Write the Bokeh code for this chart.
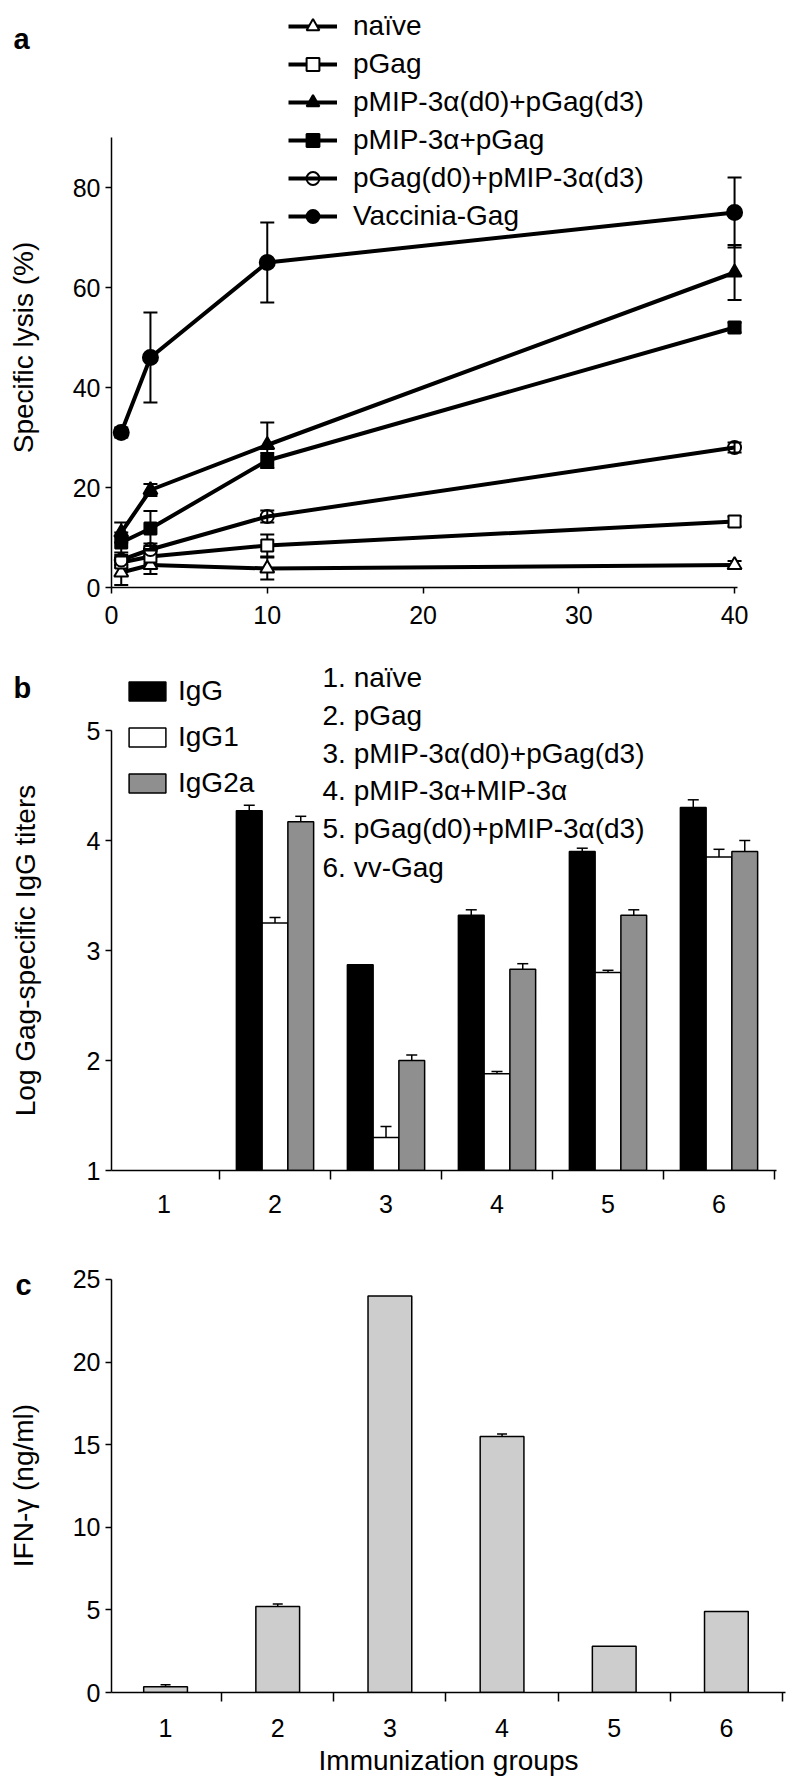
import math
from bokeh.plotting import figure
from bokeh.layouts import column
from bokeh.models import (Range1d, FixedTicker, Legend, LegendItem, Label,
                          Whisker, TeeHead, ColumnDataSource)
from bokeh.embed import file_html
from bokeh.resources import INLINE

FONT = "Liberation Sans"
TICK_FS = "25px"
LAB_FS = "28px"
FIG_W = 792
BORDER_L, BORDER_R = 111, 7

# ---------------- Panel a data ----------------
et_ratio = [0.625, 2.5, 10, 40]
a_xticks = [0, 10, 20, 30, 40]
a_yticks = [0, 20, 40, 60, 80]
series_names = ["naïve", "pGag", "pMIP-3α(d0)+pGag(d3)", "pMIP-3α+pGag",
                "pGag(d0)+pMIP-3α(d3)", "Vaccinia-Gag"]
lysis_naive = [3.0, 4.5, 3.8, 4.5]
lysis_pgag = [5.0, 6.2, 8.4, 13.2]
lysis_mip_d0_gag_d3 = [11.0, 19.5, 28.5, 63.0]
lysis_mip_gag = [9.0, 11.8, 25.4, 52.0]
lysis_gag_d0_mip_d3 = [5.5, 7.6, 14.2, 28.0]
lysis_vaccinia = [31.0, 46.0, 65.0, 75.0]
err_naive = [2.5, 1.8, 2.2, 0.8]
err_pgag = [1.0, 1.5, 2.2, 1.0]
err_mip_d0_gag_d3 = [2.0, 1.2, 4.5, 5.5]
err_mip_gag = [2.0, 3.5, 1.5, 1.0]
err_gag_d0_mip_d3 = [1.0, 1.2, 1.2, 1.0]
err_vaccinia = [1.0, 9.0, 8.0, 7.0]

# ---------------- Panel b data ----------------
groups = ["1", "2", "3", "4", "5", "6"]
group_names = ["1. naïve", "2. pGag", "3. pMIP-3α(d0)+pGag(d3)", "4. pMIP-3α+MIP-3α",
               "5. pGag(d0)+pMIP-3α(d3)", "6. vv-Gag"]
NaN = float("nan")
igg = [NaN, 4.27, 2.87, 3.32, 3.90, 4.30]
igg1 = [NaN, 3.25, 1.30, 1.88, 2.80, 3.85]
igg2a = [NaN, 4.17, 2.00, 2.83, 3.32, 3.90]
igg_err = [NaN, 0.05, 0.0, 0.05, 0.03, 0.07]
igg1_err = [NaN, 0.05, 0.10, 0.02, 0.02, 0.07]
igg2a_err = [NaN, 0.05, 0.05, 0.05, 0.05, 0.10]
b_yticks = [1, 2, 3, 4, 5]

# ---------------- Panel c data ----------------
ifng = [0.35, 5.2, 24.0, 15.5, 2.8, 4.9]
ifng_err = [0.12, 0.15, 0.0, 0.15, 0.0, 0.0]
c_yticks = [0, 5, 10, 15, 20, 25]


def style(p):
    p.xgrid.visible = False
    p.ygrid.visible = False
    p.outline_line_color = None
    p.background_fill_color = "white"
    p.border_fill_color = "white"
    for ax in p.axis:
        ax.axis_line_color = "black"
        ax.axis_line_width = 1.5
        ax.major_tick_line_color = "black"
        ax.major_tick_line_width = 1.5
        ax.major_tick_in = 0
        ax.major_tick_out = 6
        ax.minor_tick_line_color = None
        ax.major_label_text_font = FONT
        ax.major_label_text_font_size = TICK_FS
        ax.major_label_text_color = "black"
        ax.axis_label_text_font = FONT
        ax.axis_label_text_font_size = LAB_FS
        ax.axis_label_text_font_style = "normal"
        ax.axis_label_text_color = "black"


def whisker(p, base, val, err, both=False, size=12, lw=2):
    b, lo, up = [], [], []
    for x, v, e in zip(base, val, err):
        if math.isnan(v) or math.isnan(e) or e <= 0:
            continue
        b.append(x)
        up.append(v + e)
        lo.append(v - e if both else v)
    src = ColumnDataSource(dict(base=b, lower=lo, upper=up))
    w = Whisker(source=src, base="base", lower="lower", upper="upper",
                dimension="height", line_color="black", line_width=lw,
                upper_head=TeeHead(size=size, line_width=lw, line_color="black"),
                lower_head=(TeeHead(size=size, line_width=lw, line_color="black") if both else None))
    p.add_layout(w)


def side_text(p, x, y, text, size=LAB_FS, bold=False, angle=0.0,
              align="left", baseline="alphabetic"):
    """Text placed in the left side panel (so it is not clipped to the frame)."""
    p.add_layout(Label(x=x, y=y, text=text, angle=angle, text_font=FONT,
                       text_font_size=size, text_font_style="bold" if bold else "normal",
                       text_align=align, text_baseline=baseline, text_color="black"),
                 "left")


# ================= Panel a =================
A_FB, A_YPX, A_XPX = 587, 5.0, 15.575
pa = figure(width=FIG_W, height=645, output_backend="svg", toolbar_location=None,
            x_range=Range1d(0, 43.27), y_range=Range1d(0, 115.8),
            min_border_left=BORDER_L, min_border_right=BORDER_R,
            min_border_top=8, min_border_bottom=58)
style(pa)
pa.xaxis.ticker = FixedTicker(ticks=a_xticks)
pa.yaxis.ticker = FixedTicker(ticks=a_yticks)
pa.yaxis.bounds = (0, 90)
pa.xaxis.bounds = (0, 40.2)
pa.xaxis.major_label_standoff = 12

series_vals = [lysis_naive, lysis_pgag, lysis_mip_d0_gag_d3, lysis_mip_gag,
               lysis_gag_d0_mip_d3, lysis_vaccinia]
series_errs = [err_naive, err_pgag, err_mip_d0_gag_d3, err_mip_gag,
               err_gag_d0_mip_d3, err_vaccinia]
markers = [("triangle", "white", 14), ("square", "white", 12), ("triangle", "black", 14),
           ("square", "black", 12), ("circle", None, 13), ("circle", "black", 15)]

items = []
lines = []
for name, vals in zip(series_names, series_vals):
    lines.append(pa.line(et_ratio, vals, line_color="black", line_width=4))
for vals, errs in zip(series_vals, series_errs):
    whisker(pa, et_ratio, vals, errs, both=True, size=14, lw=2)
for name, vals, ln, (mk, fill, sz) in zip(series_names, series_vals, lines, markers):
    r = pa.scatter(et_ratio, vals, marker=mk, size=sz, line_color="black", line_width=2,
                   fill_color=fill if fill else "white", fill_alpha=1.0 if fill else 0.0)
    items.append(LegendItem(label=name, renderers=[ln, r]))

leg_a = Legend(items=items, location=(177, 355), orientation="vertical",
               glyph_width=49, glyph_height=32, label_standoff=16, spacing=6,
               padding=0, margin=0, border_line_color=None, background_fill_alpha=0,
               label_text_font=FONT, label_text_font_size=LAB_FS, label_text_color="black")
pa.add_layout(leg_a)
side_text(pa, (23 - 111) / A_XPX, (A_FB - 347) / A_YPX, "Specific lysis (%)",
          angle=math.pi / 2, align="center", baseline="middle")
side_text(pa, (13 - 111) / A_XPX, (A_FB - 38) / A_YPX, "a", size="29px", bold=True)

# ================= Panel b =================
B_X0, B_XPX, B_FB, B_YPX = 0.527, 111.0, 1170, 110.0
pb = figure(width=FIG_W, height=590, output_backend="svg", toolbar_location=None,
            x_range=Range1d(0.527, 6.599), y_range=Range1d(1, 1 + 515 / 110),
            min_border_left=BORDER_L, min_border_right=BORDER_R,
            min_border_top=10, min_border_bottom=65)
style(pb)
gx = [i + 1 for i in range(len(groups))]
pb.xaxis.ticker = FixedTicker(ticks=gx, minor_ticks=[g - 0.5 for g in gx] + [gx[-1] + 0.5])
pb.xaxis.major_label_overrides = {g: lab for g, lab in zip(gx, groups)}
pb.xaxis.bounds = (0.527, 6.52)
pb.xaxis.major_tick_out = 0
pb.xaxis.minor_tick_line_color = "black"
pb.xaxis.minor_tick_line_width = 1.5
pb.xaxis.minor_tick_in = 0
pb.xaxis.minor_tick_out = 9
pb.xaxis.major_label_standoff = 15
pb.yaxis.ticker = FixedTicker(ticks=b_yticks)
pb.yaxis.bounds = (1, 5)

BW = 0.232
b_series = [("IgG", igg, igg_err, "black", -BW), ("IgG1", igg1, igg1_err, "white", 0.0),
            ("IgG2a", igg2a, igg2a_err, "#8f8f8f", BW)]
b_items = []
for name, vals, errs, col, off in b_series:
    xs = [g + off for g in gx]
    r = pb.vbar(x=xs, top=vals, bottom=1, width=BW, fill_color=col,
                line_color="black", line_width=1.5)
    whisker(pb, xs, vals, errs, both=False, size=11, lw=1.5)
    b_items.append(LegendItem(label=name, renderers=[r]))

leg_b = Legend(items=b_items, location=(13, 371), orientation="vertical",
               glyph_width=46, glyph_height=24, label_standoff=8, spacing=14,
               padding=0, margin=0, border_line_color=None, background_fill_alpha=0,
               label_text_font=FONT, label_text_font_size=LAB_FS, label_text_color="black")
pb.add_layout(leg_b)

list_rows = [677, 715, 753, 790, 828, 867]
for txt, yc in zip(group_names, list_rows):
    pb.add_layout(Label(x=B_X0 + (322 - 111) / B_XPX, y=1 + (B_FB - yc) / B_YPX, text=txt,
                        text_font=FONT, text_font_size=LAB_FS, text_baseline="middle",
                        text_color="black"))
side_text(pb, B_X0 + (25 - 111) / B_XPX, 1 + (B_FB - 950) / B_YPX,
          "Log Gag-specific IgG titers", angle=math.pi / 2, align="center", baseline="middle")
side_text(pb, B_X0 + (13 - 111) / B_XPX, 1 + (B_FB - 687) / B_YPX, "b", size="29px", bold=True)

# ================= Panel c =================
C_X0, C_XPX, C_FB, C_YPX = 0.518, 112.17, 1692, 16.52
pc = figure(width=FIG_W, height=550, output_backend="svg", toolbar_location=None,
            x_range=Range1d(0.518, 6.527), y_range=Range1d(0, 25.06),
            min_border_left=BORDER_L, min_border_right=BORDER_R,
            min_border_top=43, min_border_bottom=93)
style(pc)
pc.xaxis.ticker = FixedTicker(ticks=gx, minor_ticks=[g - 0.5 for g in gx] + [gx[-1] + 0.5])
pc.xaxis.major_label_overrides = {g: lab for g, lab in zip(gx, groups)}
pc.xaxis.major_tick_out = 0
pc.xaxis.minor_tick_line_color = "black"
pc.xaxis.minor_tick_line_width = 1.5
pc.xaxis.minor_tick_in = 0
pc.xaxis.minor_tick_out = 9
pc.xaxis.major_label_standoff = 17
pc.xaxis.axis_label = "Immunization groups"
pc.xaxis.axis_label_standoff = 5
pc.yaxis.ticker = FixedTicker(ticks=c_yticks)
pc.yaxis.bounds = (0, 25)

pc.vbar(x=gx, top=ifng, bottom=0, width=0.39, fill_color="#cdcdcd",
        line_color="black", line_width=1.5)
whisker(pc, gx, ifng, ifng_err, both=False, size=10, lw=1.5)
side_text(pc, C_X0 + (23 - 111) / C_XPX, (C_FB - 1485) / C_YPX, "IFN-γ (ng/ml)",
          angle=math.pi / 2, align="center", baseline="middle")
side_text(pc, C_X0 + (15 - 111) / C_XPX, (C_FB - 1285) / C_YPX, "c", size="29px", bold=True)

layout = column(pa, pb, pc, spacing=0)
open("out.html", "w").write(file_html(layout, INLINE))
